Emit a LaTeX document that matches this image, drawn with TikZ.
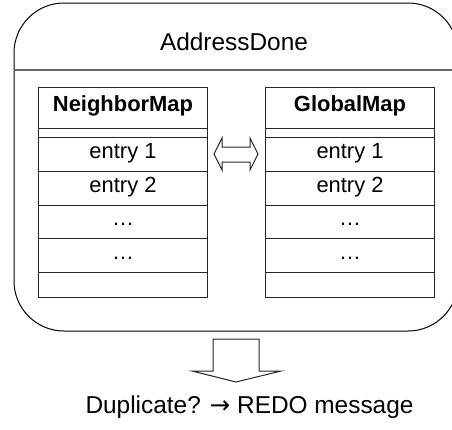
\documentclass[tikz,border=0pt]{standalone}
\usepackage{fontspec}
\setmainfont{Liberation Sans}
\newfontfamily\arrowfont{DejaVu Sans}
\begin{document}
\begin{tikzpicture}[x=1bp,y=-1bp,
  cell/.style={draw=black!85, line width=1bp, inner sep=0pt, minimum width=169bp,
    text height=0.72em, text depth=0pt, font=\fontsize{22}{26}\selectfont, anchor=north west},
  blockarrow/.style={draw=black!85, line width=1bp, fill=white, line join=miter}]
\useasboundingbox (0,0) rectangle (452,429);
\begin{scope}
\clip (0,0) rectangle (452,429);
\draw[line width=1bp, rounded corners=50bp] (14,3) rectangle (458,331);
\draw[line width=1.5bp, draw=black!60] (14,70) -- (458,70);
\end{scope}
\node[font=\fontsize{24.5}{28}\selectfont, anchor=base] (title) at (234,50) {AddressDone};
\foreach \t/\x/\ttl in {L/38/NeighborMap, R/265/GlobalMap}{
  \node[cell, minimum height=41bp, font=\fontsize{22}{26}\selectfont\bfseries] (\t h) at (\x,87) {\ttl};
  \node[cell, minimum height=9bp] (\t g) at (\x,128) {};
  \node[cell, minimum height=34bp] (\t 1) at (\x,137) {entry 1};
  \node[cell, minimum height=34bp] (\t 2) at (\x,171) {entry 2};
  \node[cell, minimum height=33bp] (\t 3) at (\x,205) {\dots};
  \node[cell, minimum height=34bp] (\t 4) at (\x,238) {\dots};
  \node[cell, minimum height=25bp] (\t 5) at (\x,272) {};
}
% double arrow between the maps
\draw[blockarrow] (214,154) -- (222,138) -- (222,147) -- (250,147) -- (250,138) -- (258,154)
  -- (250,170) -- (250,162) -- (222,162) -- (222,170) -- cycle;
% down arrow
\draw[blockarrow] (213,339) -- (259,339) -- (259,371) -- (281,371) -- (236,382) -- (192,371)
  -- (213,371) -- cycle;
\node[font=\fontsize{24.5}{28}\selectfont, anchor=base] (result) at (249.5,413) {Duplicate? {\arrowfont →} REDO message};
\end{tikzpicture}
\end{document}
